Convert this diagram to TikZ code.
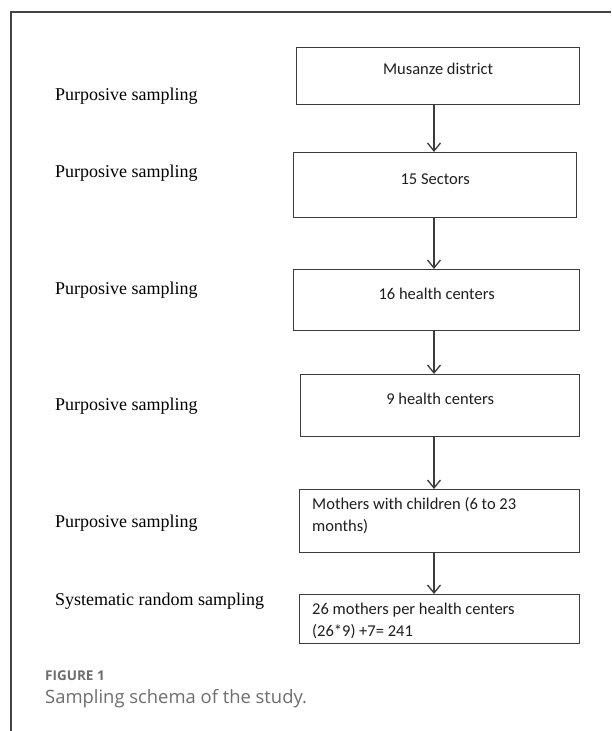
\documentclass[tikz,border=0pt]{standalone}
\usepackage{fontspec}
\setmainfont{Liberation Serif}
\newfontfamily\boxfont{Carlito}
\newfontfamily\capfont{Open Sans}
\usetikzlibrary{arrows.meta}
\definecolor{frameC}{HTML}{444444}
\definecolor{boxC}{HTML}{3C3C3C}
\definecolor{txtC}{HTML}{1E1E1E}
\definecolor{capC}{HTML}{6E6E6E}
\begin{document}
\begin{tikzpicture}[x=1pt,y=-1pt,
  box/.style={draw=boxC, line width=1.3pt, rectangle, anchor=north west, inner sep=0pt},
  boxtext/.style={text=txtC, font=\boxfont\fontsize{16.5}{22}\selectfont, inner sep=0pt},
  boxtextl/.style={boxtext, align=left, anchor=west},
  side/.style={text=black, font=\fontsize{18}{21}\selectfont, anchor=west, inner sep=0pt},
  arr/.style={draw=boxC, line width=1.3pt, -{Straight Barb[length=8pt,width=13pt]}},
  captitle/.style={text=capC, font=\capfont\bfseries\fontsize{13.5}{16}\selectfont, anchor=west, inner sep=0pt},
  captext/.style={text=capC, font=\capfont\fontsize{18.4}{22}\selectfont, anchor=west, inner sep=0pt}]
\useasboundingbox (0,0) rectangle (611,731);
\fill[white] (0,0) rectangle (611,731);
% outer frame
\draw[frameC, line width=1.5pt] (11,731) -- (11,12) -- (611,12);

% boxes
\node[box, minimum width=283pt, minimum height=57pt] (b1) at (296,47) {};
\node[box, minimum width=283pt, minimum height=65pt] (b2) at (293,152) {};
\node[box, minimum width=286pt, minimum height=61pt] (b3) at (293,269) {};
\node[box, minimum width=279pt, minimum height=62pt] (b4) at (300,374) {};
\node[box, minimum width=280pt, minimum height=63pt] (b5) at (299,489) {};
\node[box, minimum width=280pt, minimum height=49pt] (b6) at (299,594) {};

% box texts
\node[boxtext] (t1) at ([yshift=-22pt]b1.north) {Musanze district};
\node[boxtext] (t2) at ([yshift=-27pt]b2.north) {15 Sectors};
\node[boxtext] (t3) at ([yshift=-25pt]b3.north) {16 health centers};
\node[boxtext] (t4) at ([yshift=-25pt]b4.north) {9 health centers};
\node[boxtextl] (t5) at (312,516) {Mothers with children (6 to 23\\months)};
\node[boxtextl] (t6) at (312,621) {26 mothers per health centers\\(26*9) +7= 241};

% arrows
\coordinate (ax) at (434,0);
\draw[arr] (b1.south -| ax) -- (b2.north -| ax);
\draw[arr] (b2.south -| ax) -- (b3.north -| ax);
\draw[arr] (b3.south -| ax) -- (b4.north -| ax);
\draw[arr] (b4.south -| ax) -- (b5.north -| ax);
\draw[arr] (b5.south -| ax) -- (b6.north -| ax);

% side labels
\node[side] (s1) at (55,96) {Purposive sampling};
\node[side] (s2) at (55,173) {Purposive sampling};
\node[side] (s3) at (55,290) {Purposive sampling};
\node[side] (s4) at (55,406) {Purposive sampling};
\node[side] (s5) at (55,523) {Purposive sampling};
\node[side] (s6) at (55,601) {Systematic random sampling};

% caption
\node[captitle] (c1) at (45,676) {FIGURE 1};
\node[captext] (c2) at (45,699) {Sampling schema of the study.};
\end{tikzpicture}
\end{document}
